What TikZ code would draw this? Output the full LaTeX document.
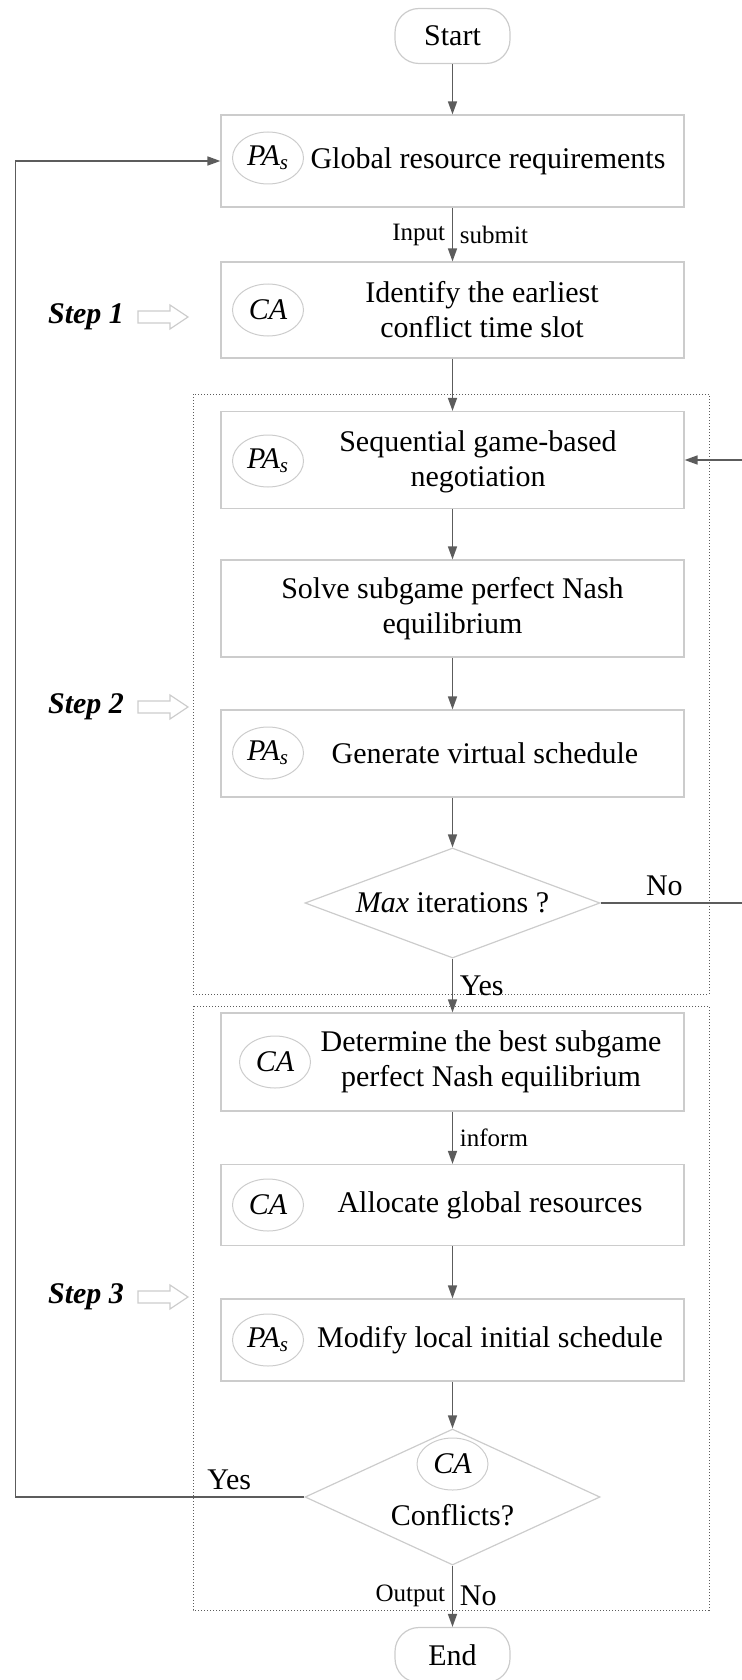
\documentclass[tikz,border=0pt]{standalone}
\usepackage{fontspec}
\setmainfont{Liberation Serif}
\usetikzlibrary{arrows.meta,shapes.geometric}

\definecolor{boxgray}{gray}{0.8}
\definecolor{linegray}{gray}{0.36}

\begin{document}
\begin{tikzpicture}[x=0.5pt,y=-0.5pt,
    every node/.style={font=\fontsize{15}{17.5}\selectfont},
    term/.style={draw=boxgray, line width=0.6pt, rounded corners=12pt, minimum width=57.5pt, minimum height=27.5pt, inner sep=0pt},
    procbox/.style={draw=boxgray, line width=0.6pt, minimum width=231.5pt, inner sep=0pt},
    agent/.style={ellipse, draw=boxgray, line width=0.5pt, minimum width=35.5pt, minimum height=26pt, inner sep=0pt, font=\fontsize{15}{17.5}\selectfont\itshape},
    decision/.style={diamond, aspect=2.7, draw=boxgray, line width=0.6pt, minimum width=147.5pt, minimum height=55pt, inner sep=0pt},
    flow/.style={draw=linegray, line width=0.8pt, -{Triangle[length=6.5pt,width=4.5pt]}},
    lbl/.style={font=\fontsize{12.5}{14}\selectfont},
    stepframe/.style={draw=linegray, densely dotted, line width=0.5pt},
    steplbl/.style={font=\fontsize{15}{17.5}\selectfont\bfseries\itshape}
]
    \useasboundingbox (0,0) rectangle (741,1680);

	% Step frames
	\draw[stepframe] (193,394) rectangle (709,994);
	\draw[stepframe] (193,1006) rectangle (709,1610);

	% Step labels and hollow arrows
	\foreach \sy/\sn in {317/1,707/2,1297/3} {
	    \node[steplbl] (step\sn) at (86,\sy) {Step \sn};
	    \draw[boxgray, line width=0.6pt] (138,\sy-6) -- (170,\sy-6) -- (170,\sy-12) -- (188,\sy) -- (170,\sy+12) -- (170,\sy+6) -- (138,\sy+6) -- cycle;
	}

	% Boxes
    \node[term] (start) at (452.5,36) {Start};

    \node[procbox, minimum height=46pt] (box1) at (452.5,161) {};
    \node[agent] (pa1) at (268,158) {PA\textsubscript{s}};
    \node (txt1) at (488,161) {Global resource requirements};

    \node[procbox, minimum height=48pt] (box2) at (452.5,310) {};
    \node[agent] (ca1) at (268,310) {CA};
    \node[align=center] (txt2) at (482,310) {Identify the earliest\\conflict time slot};

    \node[procbox, minimum height=48.5pt] (box3) at (452.5,460) {};
    \node[agent] (pa2) at (268,461) {PA\textsubscript{s}};
    \node[align=center] (txt3) at (478,462) {Sequential game-based\\negotiation};

    \node[procbox, minimum height=48.5pt, align=center] (box4) at (452.5,608.5) {Solve subgame perfect Nash\\equilibrium};

    \node[procbox, minimum height=43.5pt] (box5) at (452.5,753.5) {};
    \node[agent] (pa3) at (268,753) {PA\textsubscript{s}};
    \node (txt5) at (485,753) {Generate virtual schedule};

    \node[decision] (dec1) at (452.5,903) {\textit{Max} iterations ?};

    \node[procbox, minimum height=49pt] (box6) at (452.5,1062) {};
    \node[agent] (ca2) at (275,1062) {CA};
    \node[align=center] (txt6) at (491,1062) {Determine the best subgame\\perfect Nash equilibrium};

    \node[procbox, minimum height=40.5pt] (box7) at (452.5,1205) {};
    \node[agent] (ca3) at (268,1205) {CA};
    \node (txt7) at (490,1205) {Allocate global resources};

    \node[procbox, minimum height=41pt] (box8) at (452.5,1340) {};
    \node[agent] (pa4) at (268,1340) {PA\textsubscript{s}};
    \node (txt8) at (490,1340) {Modify local initial schedule};

    \node[decision, minimum height=68pt] (dec2) at (452.5,1497) {};
    \node[agent] (ca4) at (452.5,1464) {CA};
    \node (txt9) at (452.5,1515) {Conflicts?};

    \node[term] (end) at (452.5,1655) {End};

	% Flow
    \draw[flow] (start) -- (box1);
    \draw[flow] (box1) -- node[lbl, left] {Input} node[lbl, right] {submit} (box2);
    \draw[flow] (box2) -- (box3);
    \draw[flow] (box3) -- (box4);
    \draw[flow] (box4) -- (box5);
    \draw[flow] (box5) -- (dec1);
    \draw[flow] (dec1) -- node[right] {Yes} (box6);
    \draw[flow] (box6) -- node[lbl, right] {inform} (box7);
    \draw[flow] (box7) -- (box8);
    \draw[flow] (box8) -- (dec2);
    \draw[flow] (dec2) -- node[lbl, left] {Output} node[right] {No} (end);

	% Feedback lines
    \coordinate (retR) at (760,903);
    \coordinate (retL) at (15.6,1497);
    \draw[flow] (dec1.east) -- node[above, pos=0.4] {No} (retR) |- (box3.east);
    \draw[flow] (dec2.west) -- node[above, pos=0.26] {Yes} (retL) |- (box1.west);

\end{tikzpicture}
\end{document}
